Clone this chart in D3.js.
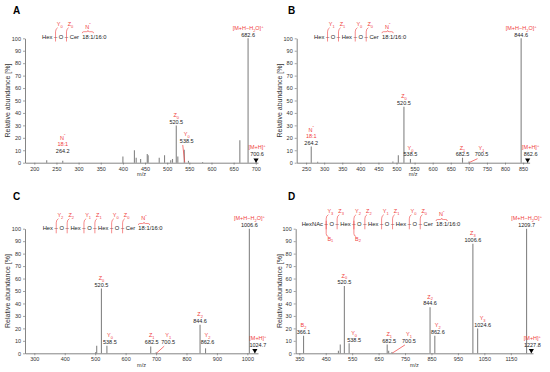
<!DOCTYPE html>
<html>
<head>
<script src="https://cdn.jsdelivr.net/npm/d3@7"></script>
<style>
body { margin: 0; background: #fff; }
svg { display: block; font-family: Arial, "Liberation Sans", sans-serif; }
</style>
</head>
<body>
<div id="chart"></div>
<script>
// ---- peak lists (m/z, relative abundance %) ----
var mzA  = [228, 264.2, 400, 426, 430, 440, 455, 457, 482, 494, 508, 512, 520.5, 524, 538.5, 548, 580, 664, 682.6, 700.6];
var intA = [2, 1.5, 5, 10, 4, 3, 7, 6, 4, 6, 2, 3, 30, 5, 10.5, 1.5, 0.6, 18, 100, 1.5];

var mzB  = [264.2, 282, 490, 505, 520.5, 538.5, 682.5, 700.5, 844.6, 862.6];
var intB = [13, 0.8, 1, 6, 45, 3, 4, 1, 100, 1];

var mzC  = [502, 505, 520.5, 538.5, 682.5, 700.5, 844.6, 862.6, 1006.6, 1024.7];
var intC = [1, 6, 52, 6, 5.5, 0.8, 23, 4, 100, 1];

var mzD  = [366.1, 498, 505, 520.5, 538.5, 682.5, 688, 700.5, 844.6, 862.6, 1006.6, 1024.6, 1209.7, 1227.8];
var intD = [14, 2, 7, 54, 8, 7, 2, 1, 37, 14, 88, 20, 100, 2];

// ---- tick labels ----
var ticksA = [200, 250, 300, 350, 400, 450, 500, 550, 600, 650, 700];
var ticksB = [250, 300, 350, 400, 450, 500, 550, 600, 650, 700, 750, 800, 850];
var ticksC = [300, 400, 500, 600, 700, 800, 900, 1000];
var ticksD = [350, 450, 550, 650, 750, 850, 950, 1050, 1150];
var ticksY = [0, 10, 20, 30, 40, 50, 60, 70, 80, 90, 100];

// ---- peak annotations ----
var labelsA = [
  { mz: 682.6, ion: ["[M+H\u2212H_2O]^+"], text: "682.6" },
  { mz: 520.5, ion: ["Z_0"], text: "520.5" },
  { mz: 538.5, ion: ["Y_0"], text: "538.5" },
  { mz: 264.2, ion: ["N^\u2033", "18:1"], text: "264.2" },
  { mz: 700.6, ion: ["[M+H]^+"], text: "700.6" }
];
var labelsB = [
  { mz: 844.6, ion: ["[M+H\u2212H_2O]^+"], text: "844.6" },
  { mz: 520.5, ion: ["Z_0"], text: "520.5" },
  { mz: 264.2, ion: ["N^\u2033", "18:1"], text: "264.2" },
  { mz: 538.5, ion: ["Y_0"], text: "538.5" },
  { mz: 682.5, ion: ["Z_1"], text: "682.5" },
  { mz: 700.5, ion: ["Y_1"], text: "700.5" },
  { mz: 862.6, ion: ["[M+H]^+"], text: "862.6" }
];
var labelsC = [
  { mz: 1006.6, ion: ["[M+H\u2212H_2O]^+"], text: "1006.6" },
  { mz: 520.5, ion: ["Z_0"], text: "520.5" },
  { mz: 538.5, ion: ["Y_0"], text: "538.5" },
  { mz: 682.5, ion: ["Z_1"], text: "682.5" },
  { mz: 700.5, ion: ["Y_1"], text: "700.5" },
  { mz: 844.6, ion: ["Z_2"], text: "844.6" },
  { mz: 862.6, ion: ["Y_2"], text: "862.6" },
  { mz: 1024.7, ion: ["[M+H]^+"], text: "1024.7" }
];
var labelsD = [
  { mz: 1209.7, ion: ["[M+H\u2212H_2O]^+"], text: "1209.7" },
  { mz: 1006.6, ion: ["Z_3"], text: "1006.6" },
  { mz: 520.5, ion: ["Z_0"], text: "520.5" },
  { mz: 366.1, ion: ["B_2"], text: "366.1" },
  { mz: 538.5, ion: ["Y_0"], text: "538.5" },
  { mz: 682.5, ion: ["Z_1"], text: "682.5" },
  { mz: 700.5, ion: ["Y_1"], text: "700.5" },
  { mz: 844.6, ion: ["Z_2"], text: "844.6" },
  { mz: 862.6, ion: ["Y_2"], text: "862.6" },
  { mz: 1024.6, ion: ["Y_3"], text: "1024.6" },
  { mz: 1227.8, ion: ["[M+H]^+"], text: "1227.8" }
];

// ---- glycan chains and cleavage sites ----
var chainA = ["Hex", "O", "Cer"];
var chainB = ["Hex", "O", "Hex", "O", "Cer"];
var chainC = ["Hex", "O", "Hex", "O", "Hex", "O", "Cer"];
var chainD = ["HexNAc", "O", "Hex", "O", "Hex", "O", "Hex", "O", "Cer"];
var ceramide = "18:1/16:0";
var cutsA = [["Y_0", 0], ["Z_0", 1]];
var cutsB = [["Y_1", 0], ["Z_1", 1], ["Y_0", 2], ["Z_0", 3]];
var cutsC = [["Y_2", 0], ["Z_2", 1], ["Y_1", 2], ["Z_1", 3], ["Y_0", 4], ["Z_0", 5]];
var cutsD = [["Y_3", 0], ["Z_3", 1], ["Y_2", 2], ["Z_2", 3], ["Y_1", 4], ["Z_1", 5], ["Y_0", 6], ["Z_0", 7]];
var bCutsD = [["B_1", 0], ["B_2", 2]];

// label placement tweaks (dx in px, at = baseline level in %)
var placeA = { "538.5": { dx: 2.5, at: 16, leader: true }, "264.2": { at: 8 }, "700.6": { dx: 1, at: 5.4, arrow: true } };
var placeB = { "538.5": { at: 5 }, "682.5": { at: 5 }, "700.5": { dx: 12.5, at: 5, leader: true }, "862.6": { dx: 3, at: 5.4, arrow: true } };
var placeC = { "538.5": { dx: 3, at: 7.5 }, "682.5": { dx: 1, at: 7.5 }, "700.5": { dx: 12, at: 7.5, leader: true },
               "862.6": { dx: 2, at: 7.5 }, "1024.7": { dx: 3, at: 5, arrow: true } };
var placeD = { "538.5": { dx: 5, at: 9 }, "682.5": { dx: 2, at: 8.5 }, "700.5": { dx: 17, at: 8.5, leader: true },
               "862.6": { dx: 3 }, "1024.6": { dx: 5 }, "1227.8": { dx: 1, at: 5, arrow: true } };

var panels = [
  { name: "A", ox: 0, oy: 0, mz: mzA, it: intA, ticks: ticksA, labels: labelsA, place: placeA,
    domain: [179, 705], xr: [25, 258], yr: [162.7, 38.3], ylabX: 7.5,
    chain: chainA, cuts: cutsA, bcuts: [], cx: 42, cy: 38.5, lb: 26.3 },
  { name: "B", ox: 275, oy: 0, mz: mzB, it: intB, ticks: ticksB, labels: labelsB, place: placeB,
    domain: [224, 868], xr: [21.7, 254.6], yr: [162.7, 38.3], ylabX: 5,
    chain: chainB, cuts: cutsB, bcuts: [], cx: 39, cy: 38.5, lb: 26.3 },
  { name: "C", ox: 0, oy: 186, mz: mzC, it: intC, ticks: ticksC, labels: labelsC, place: placeC,
    domain: [269.4, 1035], xr: [25, 258], yr: [167.3, 42.7], ylabX: 7.5,
    chain: chainC, cuts: cutsC, bcuts: [], cx: 42.7, cy: 44.3, lb: 31.3 },
  { name: "D", ox: 275, oy: 186, mz: mzD, it: intD, ticks: ticksD, labels: labelsD, place: placeD,
    domain: [336.4, 1234], xr: [20.7, 258], yr: [167.3, 42.7], ylabX: 4.5,
    chain: chainD, cuts: cutsD, bcuts: bCutsD, cx: 26.7, cy: 40.3, lb: 27.3, lbB: 54.7 }
];

var RED = "#f03c3c", INK = "#222", FS = 5.5;

var svg = d3.select("#chart").append("svg")
    .attr("width", 550)
    .attr("height", 372);

// writes "Z_0" / "[M+H]^+" style strings with sub/superscripts
function rich(text, str, fs) {
  var parts = [], buf = "", i = 0;
  while (i < str.length) {
    var c = str[i];
    if (c === "_" || c === "^") {
      if (buf) parts.push({ t: buf, s: 0 });
      buf = "";
      parts.push({ t: str[i + 1], s: c === "_" ? 1 : -1 });
      i += 2;
    } else { buf += c; i++; }
  }
  if (buf) parts.push({ t: buf, s: 0 });
  var cur = 0;
  parts.forEach(function (p) {
    var target = p.s === 1 ? fs * 0.3 : p.s === -1 ? -fs * 0.4 : 0;
    var ts = text.append("tspan").attr("dy", target - cur).text(p.t);
    if (p.s) ts.attr("font-size", fs * 0.72);
    cur = target;
  });
}

panels.forEach(function (p) {
  var g = svg.append("g").attr("transform", "translate(" + p.ox + "," + p.oy + ")");
  var x = d3.scaleLinear().domain(p.domain).range(p.xr);
  var y = d3.scaleLinear().domain([0, 100]).range(p.yr);

  // panel letter
  g.append("text").attr("x", 13).attr("y", 14)
    .attr("font-size", 10).attr("font-weight", "bold").attr("fill", "#000").text(p.name);

  // bars
  g.selectAll(".bar").data(p.mz).enter().append("line")
    .attr("class", "bar")
    .attr("x1", function (d) { return x(d); })
    .attr("x2", function (d) { return x(d); })
    .attr("y1", y(0))
    .attr("y2", function (d, i) { return y(p.it[i]); })
    .attr("stroke", "#858585")
    .attr("stroke-width", 1.1);

  // axes
  var xAxis = d3.axisBottom(x).tickValues(p.ticks).tickSize(2).tickSizeOuter(0).tickPadding(2)
    .tickFormat(d3.format("d"));
  var gx = g.append("g").attr("transform", "translate(0," + y(0) + ")").call(xAxis);
  var yAxis = d3.axisLeft(y).tickValues(ticksY).tickSize(2).tickSizeOuter(0).tickPadding(2);
  var gy = g.append("g").attr("transform", "translate(" + p.xr[0] + ",0)").call(yAxis);
  [gx, gy].forEach(function (a) {
    a.select(".domain").attr("stroke", "#666").attr("stroke-width", 0.8);
    a.selectAll(".tick line").attr("stroke", "#666").attr("stroke-width", 0.6);
    a.selectAll(".tick text").attr("font-size", FS).attr("fill", "#333").attr("font-family", null);
  });

  g.append("text").attr("x", (p.xr[0] + p.xr[1]) / 2).attr("y", y(0) + 13.5)
    .attr("text-anchor", "middle").attr("font-size", FS).attr("fill", "#333").text("m/z");
  g.append("text")
    .attr("transform", "translate(" + p.ylabX + "," + (y(0) + y(100)) / 2 + ") rotate(-90)")
    .attr("text-anchor", "middle").attr("dy", "0.35em")
    .attr("font-size", 7).attr("fill", "#333").text("Relative abundance [%]");

  // peak annotations
  p.labels.forEach(function (lab) {
    var lay = p.place[String(lab.mz)] || {};
    var xm = x(lab.mz);
    var px = xm + (lay.dx || 0);
    var h = p.it[p.mz.indexOf(lab.mz)];
    var base = lay.at != null ? y(lay.at) : y(h) - 1.8;
    g.append("text").attr("x", px).attr("y", base).attr("text-anchor", "middle")
      .attr("font-size", FS).attr("fill", INK).text(lab.text);
    var n = lab.ion.length;
    lab.ion.forEach(function (s, k) {
      var t = g.append("text").attr("x", px).attr("y", base - 6.6 * (n - k))
        .attr("text-anchor", "middle").attr("font-size", FS).attr("fill", RED);
      rich(t, s, FS);
    });
    if (lay.leader) {
      g.append("path").attr("d", "M" + (px - 4) + "," + (base + 2.2) + "L" + (xm + 0.5) + "," + (y(0) - 0.3))
        .attr("stroke", RED).attr("stroke-width", 0.7).attr("fill", "none");
    }
    if (lay.arrow) {
      var y0 = y(0);
      g.append("path").attr("d", "M" + (xm - 2.6) + "," + (y0 - 4.2) + "L" + (xm + 2.6) + "," + (y0 - 4.2) + "L" + xm + "," + y0 + "Z")
        .attr("fill", "#000");
    }
  });

  // glycan chain with cleavage marks
  var str = p.chain.join(" \u2013 ") + "\u00a0\u00a0" + ceramide;
  var chainText = g.append("text").attr("x", p.cx).attr("y", p.cy)
    .attr("font-size", 5.8).attr("fill", INK).text(str);
  var node = chainText.node();
  var dashes = [];
  for (var i = 0; i < str.length; i++) if (str[i] === "\u2013") dashes.push(i);
  function bondX(b) {
    var k = dashes[b];
    return (node.getStartPositionOfChar(k).x + node.getEndPositionOfChar(k).x) / 2;
  }
  p.cuts.forEach(function (c) {
    var bx = bondX(c[1]), lb = p.lb;
    g.append("path")
      .attr("d", "M" + (bx + 2.2) + "," + (lb + 1.4) + "Q" + bx + "," + (lb + 2.4) + " " + bx + "," + (lb + 5.5) + "L" + bx + "," + (p.cy + 3))
      .attr("stroke", RED).attr("stroke-width", 0.6).attr("fill", "none");
    var t = g.append("text").attr("x", bx + 1.2).attr("y", lb).attr("font-size", FS).attr("fill", RED);
    rich(t, c[0], FS);
  });
  p.bcuts.forEach(function (c) {
    var bx = bondX(c[1]), lb = p.lbB;
    g.append("path")
      .attr("d", "M" + bx + "," + (p.cy - 5.5) + "L" + bx + "," + (lb - 7) + "Q" + bx + "," + (lb - 4.6) + " " + (bx + 2.2) + "," + (lb - 4.2))
      .attr("stroke", RED).attr("stroke-width", 0.6).attr("fill", "none");
    var t = g.append("text").attr("x", bx + 1.2).attr("y", lb).attr("font-size", FS).attr("fill", RED);
    rich(t, c[0], FS);
  });
  // brace over the sphingoid base
  var k0 = str.indexOf("18:1");
  var x1 = node.getStartPositionOfChar(k0).x, x2 = node.getEndPositionOfChar(k0 + 3).x;
  var mid = (x1 + x2) / 2, yb = p.cy - 6.8;
  g.append("path")
    .attr("d", "M" + x1 + "," + (yb + 1.5) + "Q" + x1 + "," + yb + " " + (x1 + 1.5) + "," + yb +
               "L" + (mid - 1.5) + "," + yb + "Q" + mid + "," + yb + " " + mid + "," + (yb - 1.2) +
               "Q" + mid + "," + yb + " " + (mid + 1.5) + "," + yb +
               "L" + (x2 - 1.5) + "," + yb + "Q" + x2 + "," + yb + " " + x2 + "," + (yb + 1.5))
    .attr("stroke", RED).attr("stroke-width", 0.6).attr("fill", "none");
  var nt = g.append("text").attr("x", mid).attr("y", yb - 3.2).attr("text-anchor", "middle")
    .attr("font-size", FS).attr("fill", RED);
  rich(nt, "N^\u2033", FS);
});
</script>
</body>
</html>
